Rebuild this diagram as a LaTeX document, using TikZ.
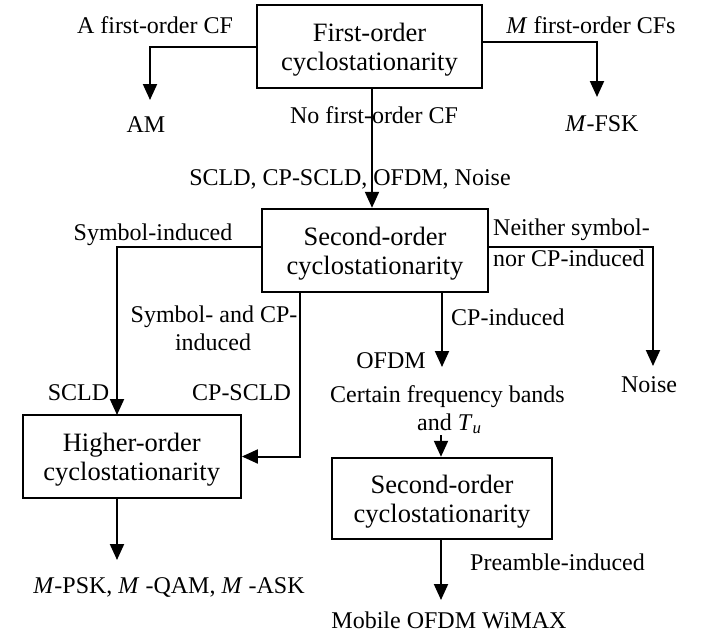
\documentclass[tikz,border=0pt]{standalone}
\usepackage{fontspec}
\setmainfont{Liberation Serif}
\usetikzlibrary{arrows.meta}
\begin{document}
\begin{tikzpicture}[x=1pt,y=-1pt,
  box/.style={draw,line width=2.4pt,inner sep=0pt},
  boxtext/.style={align=center,font=\fontsize{26.5}{29}\selectfont,inner sep=0pt,anchor=base},
  lab/.style={font=\fontsize{24}{29}\selectfont,inner sep=0pt,anchor=base},
  arr/.style={line width=2pt,-{Triangle[length=16pt,width=14pt]}}]
\useasboundingbox (0,0) rectangle (706,637);

% boxes
\node[box,minimum width=225pt,minimum height=83pt] (b1) at (369.5,46.5) {};
\node[box,minimum width=226pt,minimum height=83pt] (b2) at (375,250.5) {};
\node[box,minimum width=218pt,minimum height=83pt] (b3) at (131.7,456.5) {};
\node[box,minimum width=220pt,minimum height=81pt] (b4) at (442,498.5) {};
% box texts (base anchor = baseline of the last line)
\node[boxtext] (b1t) at ([yshift=-23.5pt]b1.center) {First-order\\cyclostationarity};
\node[boxtext] (b2t) at ([yshift=-23.5pt]b2.center) {Second-order\\cyclostationarity};
\node[boxtext] (b3t) at ([yshift=-23.5pt]b3.center) {Higher-order\\cyclostationarity};
\node[boxtext] (b4t) at ([yshift=-23.5pt]b4.center) {Second-order\\cyclostationarity};

% labels
\node[lab] (l1) at (155,33) {A first-order CF};
\node[lab] (l2) at (591,33) {\textit{M} first-order CFs};
\node[lab] (am) at (146,132) {AM};
\node[lab] (fsk) at (602,131) {\textit{M}-FSK};
\node[lab] (l3) at (374,123) {No first-order CF};
\node[lab] (l4) at (350,185) {SCLD, CP-SCLD, OFDM, Noise};
\node[lab] (l5) at (153,240) {Symbol-induced};
\node[lab,anchor=base west] (l6a) at (493,235) {Neither symbol-};
\node[lab,anchor=base west] (l6b) at (493,266) {nor CP-induced};
\node[lab] (l7a) at (214,322) {Symbol- and CP-};
\node[lab] (l7b) at (213,350) {induced};
\node[lab,anchor=base west] (l8) at (451,325) {CP-induced};
\node[lab] (ofdm) at (391,368) {OFDM};
\node[lab] (scld) at (78.5,400) {SCLD};
\node[lab] (cpscld) at (241.5,400) {CP-SCLD};
\node[lab] (noise) at (649,392) {Noise};
\node[lab] (l9a) at (447.5,402) {Certain frequency bands};
\node[lab,anchor=base west] (l9b) at (417,430) {and \textit{T}\textsubscript{\textit{u}}};
\node[lab,anchor=base west] (l10) at (470,570) {Preamble-induced};
\node[lab] (psk) at (169,593) {\textit{M}-PSK, \textit{M} -QAM, \textit{M} -ASK};
\node[lab] (wimax) at (449,628) {Mobile OFDM WiMAX};

% connector ends
\coordinate (tAM) at (150,100);
\coordinate (tFSK) at (597,97);
\coordinate (tNoise) at (653,366);
\coordinate (tOFDM) at (442,367);
\coordinate (s300) at (300,292);
\coordinate (b3in) at (117,415);
\coordinate (tu) at (441,435);
\coordinate (tWiMAX) at (441,600);
\coordinate (tPSK) at (117,560);

% connectors
\draw[arr] (b1.west) -| (tAM);
\draw[arr] ([yshift=4.5pt]b1.east) -| (tFSK);
\draw[arr] (b1.south -| 372,0) -- (b2.north -| 372,0);
\draw[arr] ([yshift=3.5pt]b2.west) -| (b3in);
\draw[arr] ([yshift=3.5pt]b2.east) -| (tNoise);
\draw[arr] (b2.south -| s300) |- (b3.east);
\draw[arr] (b2.south -| tOFDM) -- (tOFDM);
\draw[arr] (tu) -- (b4.north -| tu);
\draw[arr] (b4.south -| tWiMAX) -- (tWiMAX);
\draw[arr] (b3.south -| tPSK) -- (tPSK);
\end{tikzpicture}
\end{document}
